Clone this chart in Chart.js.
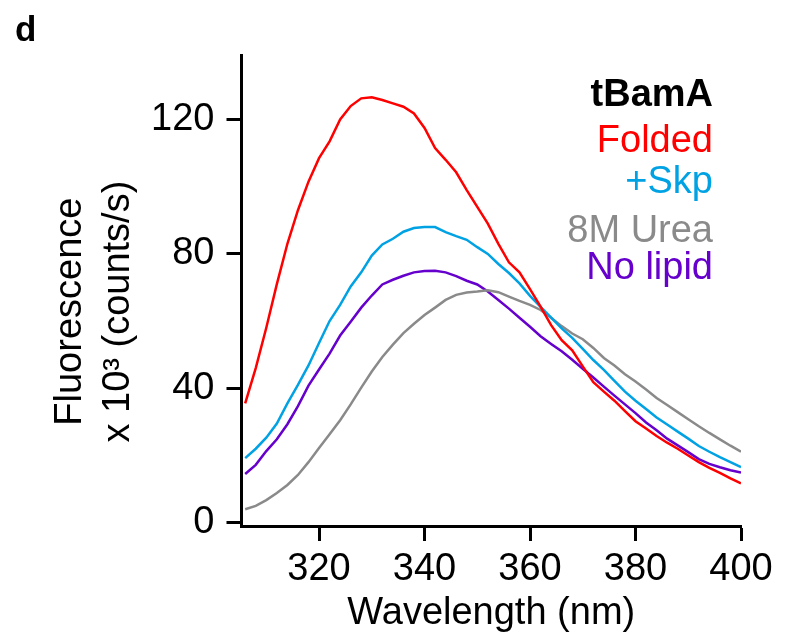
<!DOCTYPE html>
<html>
<head>
<meta charset="utf-8">
<script src="https://cdn.jsdelivr.net/npm/chart.js@4.4.1/dist/chart.umd.min.js"></script>
<style>
  html, body { margin: 0; padding: 0; background: #fff; }
  #wrap { width: 785px; height: 636px; }
</style>
</head>
<body>
<div id="wrap"><canvas id="c"></canvas></div>
<script>
// emission wavelengths (nm)
const wavelengths = [306, 308, 310, 312, 314, 316, 318, 320, 322, 324, 326, 328, 330, 332, 334, 336,
  338, 340, 342, 344, 346, 348, 350, 352, 354, 356, 358, 360, 362, 364, 366, 368,
  370, 372, 374, 376, 378, 380, 382, 384, 386, 388, 390, 392, 394, 396, 398, 400];

// fluorescence, x10^3 counts/s
const folded = [35.5, 46, 58, 71, 83, 93, 101.5, 108.5, 113.5, 120, 124, 126.3, 126.6, 125.8, 124.8, 123.8,
  121.8, 117.5, 111.5, 108, 104.3, 99, 94, 89, 83, 77.5, 74.5, 69.5, 64.3, 58.8, 54.3, 51.3,
  46.5, 41.8, 39, 36.3, 33.2, 30.2, 28, 25.8, 23.8, 22, 20, 18, 16.3, 14.8, 13.2, 11.7];
const skp = [19.2, 22, 25.3, 29.5, 35.5, 41, 46.8, 53.5, 60, 64.8, 70.3, 74.5, 79.5, 82.8, 84.5, 86.6,
  87.7, 88, 88, 86.5, 85.3, 84.2, 82, 80, 77, 74.3, 71.2, 67.5, 64.2, 61, 57.8, 55,
  51.7, 48.4, 45.5, 42.2, 39, 36.3, 33.8, 31.3, 29.2, 27.1, 25, 22.8, 21.1, 19.5, 18, 16.5];
const urea = [4, 5, 6.7, 8.8, 11.2, 14.2, 18, 22.2, 26.3, 30.5, 35.2, 40.2, 45, 49.3, 53, 56.4,
  59.2, 61.8, 64, 66.3, 67.8, 68.5, 68.8, 69.2, 68.6, 67.3, 66, 64.8, 63.3, 61, 58.5, 56.3,
  54.6, 52, 49, 46.8, 44.2, 42, 39.6, 37.1, 35, 32.9, 30.8, 28.7, 26.7, 24.8, 22.9, 21.1];
const noLipid = [14.5, 17.2, 21.3, 24.8, 29.3, 34.7, 40.8, 45.6, 50.3, 55.7, 59.8, 64, 67.6, 70.9, 72.3, 73.5,
  74.5, 74.9, 75, 74.5, 73.4, 72, 70.9, 68.8, 66.3, 63.7, 61, 58.3, 55.5, 53.2, 51, 48.5,
  45.8, 43.2, 40.5, 37.8, 35.2, 32.6, 29.8, 27.5, 25, 23, 21, 18.9, 17.5, 16.5, 15.6, 14.9];

const seriesLabels = ['Folded', '+Skp', '8M Urea', 'No lipid'];
const seriesColors = ['#ff0000', '#00a2e3', '#8a8a8a', '#6600cc'];
const xTicks = [320, 340, 360, 380, 400];
const yTicks = [0, 40, 80, 120];

const FONT = "'Liberation Sans', Arial, Helvetica, sans-serif";

const toPoints = arr => wavelengths.map((w, i) => ({ x: w, y: arr[i] }));

// text legend at top right + panel letter
const textLegend = {
  id: 'textLegend',
  afterDraw(chart, args, opts) {
    const { ctx } = chart;
    ctx.save();
    ctx.textAlign = 'right';
    ctx.textBaseline = 'alphabetic';
    ctx.font = `bold 38px ${FONT}`;
    ctx.fillStyle = '#000';
    ctx.fillText(opts.title, opts.x, opts.rows[0]);
    ctx.font = `38px ${FONT}`;
    chart.data.datasets.forEach((ds, i) => {
      ctx.fillStyle = ds.borderColor;
      ctx.fillText(ds.label, opts.x, opts.rows[i + 1]);
    });
    ctx.textAlign = 'left';
    ctx.font = `bold 35px ${FONT}`;
    ctx.fillStyle = '#000';
    ctx.fillText(opts.panel, 15, 41);
    ctx.restore();
  }
};

new Chart(document.getElementById('c'), {
  type: 'line',
  data: {
    datasets: [folded, skp, urea, noLipid].map((arr, i) => ({
      label: seriesLabels[i],
      data: toPoints(arr),
      borderColor: seriesColors[i],
      borderWidth: 2.5,
      pointRadius: 0,
      tension: 0,
      fill: false
    }))
  },
  options: {
    responsive: true,
    maintainAspectRatio: false,
    animation: false,
    layout: { padding: { top: 55, right: 44, left: 0, bottom: 0 } },
    plugins: {
      legend: { display: false },
      tooltip: { enabled: false },
      textLegend: { title: 'tBamA', panel: 'd', x: 713, rows: [106, 152, 193, 242, 279] }
    },
    scales: {
      x: {
        type: 'linear',
        min: 305.3,
        max: 400,
        afterFit: s => { s.height = 110; },
        afterBuildTicks: s => { s.ticks = xTicks.map(v => ({ value: v })); },
        border: { display: true, color: '#000', width: 3 },
        grid: { drawOnChartArea: false, drawTicks: true, tickLength: 15, tickWidth: 3, tickColor: '#000' },
        ticks: { color: '#000', padding: 6, maxRotation: 0, font: { family: FONT, size: 38 } },
        title: {
          display: true, text: 'Wavelength (nm)', color: '#000',
          padding: { top: 0, bottom: 0 },
          font: { family: FONT, size: 38 }
        }
      },
      y: {
        min: -1,
        max: 139.2,
        afterFit: s => { s.width = 241.5; },
        afterBuildTicks: s => { s.ticks = yTicks.map(v => ({ value: v })); },
        border: { display: true, color: '#000', width: 3 },
        grid: { drawOnChartArea: false, drawTicks: true, tickLength: 15, tickWidth: 3, tickColor: '#000' },
        ticks: { color: '#000', padding: 12, font: { family: FONT, size: 38 } },
        title: {
          display: true,
          text: ['Fluorescence    ', 'x 10\u00B3 (counts/s)    '],
          color: '#000',
          padding: { top: 47, bottom: 0 },
          font: { family: FONT, size: 38, lineHeight: 1.25 }
        }
      }
    }
  },
  plugins: [textLegend]
});
</script>
</body>
</html>
